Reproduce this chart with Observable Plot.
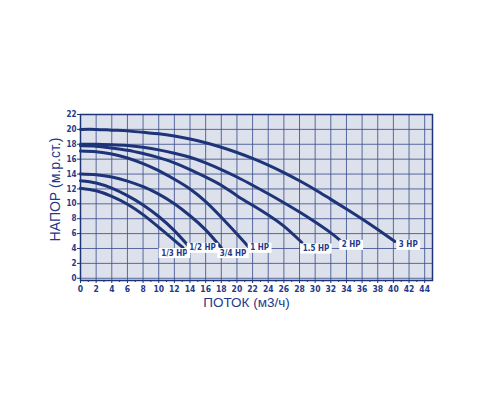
<!DOCTYPE html>
<html>
<head>
<meta charset="utf-8">
<script src="https://cdn.jsdelivr.net/npm/d3@7"></script>
<script src="https://cdn.jsdelivr.net/npm/@observablehq/plot@0.6"></script>
<style>
  html, body { margin: 0; padding: 0; background: #ffffff; }
  #chart { width: 500px; height: 400px; }
</style>
</head>
<body>
<div id="chart"></div>
<script>
// Flow (m3/h) / head (m) points
const hp3_x  = [0, 2, 4, 6, 8, 10, 12, 14, 16, 18, 20, 22, 24, 26, 28, 30, 32, 34, 36, 38, 40.2];
const hp3_y  = [20.0, 20.0, 19.9, 19.8, 19.6, 19.4, 19.1, 18.7, 18.2, 17.6, 16.9, 16.1, 15.2, 14.2, 13.1, 11.9, 10.6, 9.3, 7.95, 6.55, 4.95];
const hp2_x  = [0, 2, 4, 6, 8, 10, 12, 14, 16, 18, 20, 22, 24, 26, 28, 30, 32, 33.2];
const hp2_y  = [18.0, 18.0, 17.95, 17.85, 17.6, 17.25, 16.8, 16.25, 15.5, 14.6, 13.6, 12.5, 11.35, 10.15, 8.9, 7.55, 6.1, 5.1];
const hp15_x = [0, 2, 4, 6, 8, 10, 12, 14, 16, 18, 20, 22, 24, 26, 28.3];
const hp15_y = [17.8, 17.75, 17.5, 17.2, 16.75, 16.2, 15.5, 14.6, 13.6, 12.5, 11.1, 9.8, 8.5, 7.0, 4.8];
const hp1_x  = [0, 2, 4, 6, 8, 10, 12, 14, 16, 18, 20, 21.5];
const hp1_y  = [17.1, 17.0, 16.7, 16.15, 15.4, 14.45, 13.3, 12.0, 10.3, 8.2, 5.95, 4.2];
const hp34_x = [0, 2, 4, 6, 8, 10, 12, 14, 16, 18];
const hp34_y = [14.0, 13.9, 13.6, 13.05, 12.3, 11.3, 10.0, 8.4, 6.5, 4.1];
const hp12_x = [0, 2, 4, 6, 8, 10, 12, 14];
const hp12_y = [13.1, 12.8, 12.1, 11.1, 9.85, 8.3, 6.4, 4.1];
const hp13_x = [0, 2, 4, 6, 8, 10, 12, 13.1];
const hp13_y = [12.1, 11.75, 11.0, 9.95, 8.55, 6.85, 5.1, 4.1];

const seriesNames = ["3 HP", "2 HP", "1.5 HP", "1 HP", "3/4 HP", "1/2 HP", "1/3 HP"];
const seriesX = [hp3_x, hp2_x, hp15_x, hp1_x, hp34_x, hp12_x, hp13_x];
const seriesY = [hp3_y, hp2_y, hp15_y, hp1_y, hp34_y, hp12_y, hp13_y];

// curve labels (text and where they sit)
const labelText = ["1/3 HP", "1/2 HP", "3/4 HP", "1 HP", "1.5 HP", "2 HP", "3 HP"];
const labelX    = [12.0, 15.6, 19.5, 22.9, 30.1, 34.6, 41.9];
const labelY    = [3.4, 4.1, 3.4, 4.1, 4.0, 4.5, 4.5];

const xTicks = d3.range(0, 45, 2);        // 0..44
const xMinor = d3.range(1, 45, 2);
const yTicks = d3.range(0, 23, 2);        // 0..22
const xTitle = "ПОТОК (м3/ч)";
const yTitle = "НАПОР (м.р.ст.)";

const rows = seriesNames.flatMap((name, i) =>
  seriesX[i].map((x, j) => ({series: name, x, y: seriesY[i][j]})));
const labels = labelText.map((t, i) => ({t, x: labelX[i], y: labelY[i]}));

const NAVY = "#1d3479";
const GRID = "#3f528f";
const TXT = "#25398a";
const tickFont = "'DejaVu Sans Condensed', 'DejaVu Sans', sans-serif";
const titleFont = "'Liberation Sans', Arial, sans-serif";

const chart = Plot.plot({
  width: 500,
  height: 400,
  marginLeft: 80,
  marginRight: 68,
  marginTop: 114,
  marginBottom: 120,
  style: {background: "#ffffff", color: TXT},
  x: {domain: [0, 45]},
  y: {domain: [-0.3, 22]},
  marks: [
    Plot.frame({fill: "#dde1ec", stroke: null}),
    Plot.gridX(xTicks, {stroke: GRID, strokeOpacity: 0.85, strokeWidth: 1}),
    Plot.gridY(yTicks, {stroke: GRID, strokeOpacity: 0.85, strokeWidth: 1}),
    Plot.frame({stroke: NAVY, strokeWidth: 1.5}),
    Plot.axisX(xTicks, {tickSize: 3, tickPadding: 2, label: null, fontSize: 8.5, fontWeight: "bold",
      fontFamily: tickFont, stroke: NAVY, fill: TXT}),
    Plot.axisX(xMinor, {tickSize: 2, text: null, label: null, stroke: NAVY}),
    Plot.axisY(yTicks, {tickSize: 3, tickPadding: 1, label: null, fontSize: 8, fontWeight: "bold",
      fontFamily: tickFont, stroke: NAVY, fill: TXT}),
    Plot.line(rows, {x: "x", y: "y", z: "series", stroke: NAVY, strokeWidth: 3, curve: "natural"}),
    Plot.text(labels, {x: "x", y: "y", text: "t", fill: TXT, fontSize: 8, fontWeight: "bold",
      fontFamily: tickFont}),
    Plot.text([xTitle], {frameAnchor: "bottom", lineAnchor: "middle", dy: 22, dx: -10, fontSize: 13.5,
      fontFamily: titleFont, fill: TXT}),
    Plot.text([yTitle], {frameAnchor: "left", textAnchor: "middle", dx: -25, dy: -8, rotate: -90, fontSize: 14,
      fontFamily: titleFont, fill: TXT})
  ]
});

document.getElementById("chart").appendChild(chart);

// white boxes behind the curve labels
const labelSet = new Set(labelText);
chart.querySelectorAll("text").forEach(t => {
  if (!labelSet.has(t.textContent)) return;
  const b = t.getBBox();
  const r = document.createElementNS("http://www.w3.org/2000/svg", "rect");
  r.setAttribute("x", b.x - 2.5);
  r.setAttribute("y", b.y - 0.5);
  r.setAttribute("width", b.width + 5);
  r.setAttribute("height", b.height + 1);
  r.setAttribute("fill", "#ffffff");
  const tr = t.getAttribute("transform");
  if (tr) r.setAttribute("transform", tr);
  t.parentNode.insertBefore(r, t);
});
</script>
</body>
</html>
